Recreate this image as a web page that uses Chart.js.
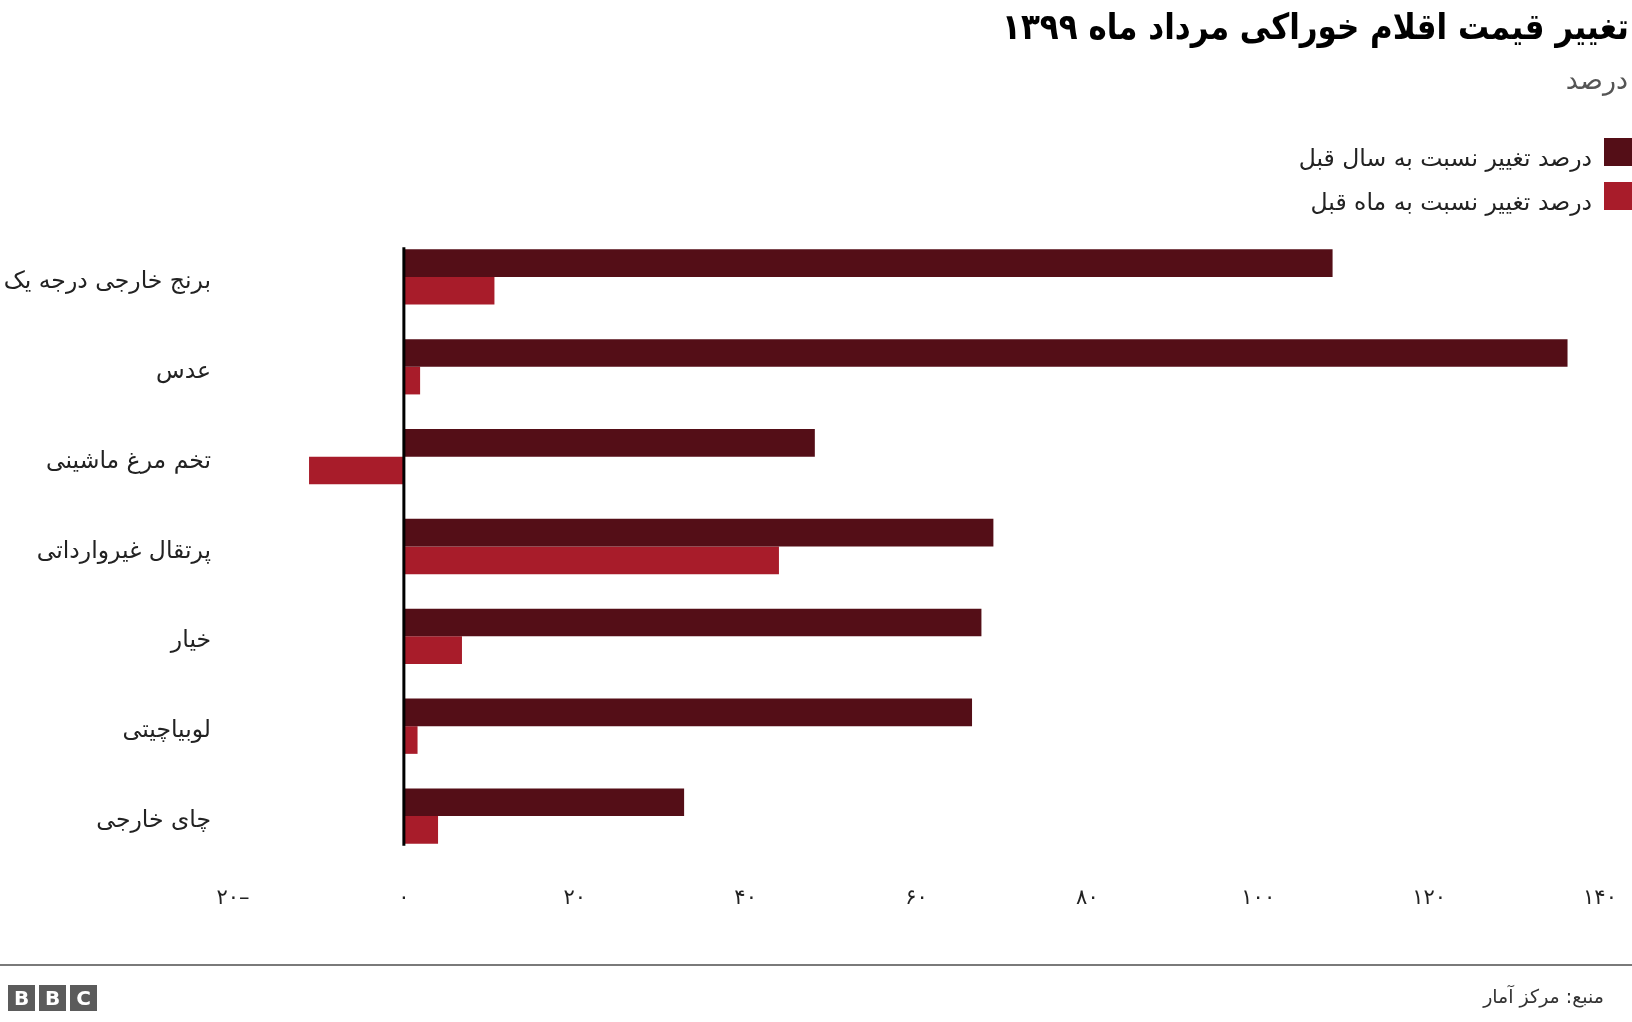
<!DOCTYPE html>
<html lang="fa">
<head>
<meta charset="utf-8">
<script src="https://cdn.jsdelivr.net/npm/chart.js@4/dist/chart.umd.min.js"></script>
<style>
  body { margin: 0; background: #fff; font-family: "DejaVu Sans", sans-serif; }
  #page { position: relative; width: 1632px; height: 1022px; overflow: hidden; }
  #chart { position: absolute; left: 0; top: 0; }
  .txt { position: absolute; direction: rtl; white-space: nowrap; }
  #title { right: 3px; top: 6px; font-size: 36px; font-weight: bold; color: #000; transform: scaleX(0.86); transform-origin: right top; }
  #subtitle { right: 4px; top: 64px; font-size: 27px; color: #555; }
  .legend-row { position: absolute; right: 0; height: 28px; display: flex; align-items: center; direction: rtl; }
  .legend-box { width: 28px; height: 28px; margin-left: 12px; }
  .legend-label { font-size: 23.5px; color: #222; white-space: nowrap; padding-top: 12px; }
  #rule { position: absolute; left: 0; top: 964px; width: 1632px; height: 2px; background: #7a7a7a; }
  #source { right: 28px; top: 985px; font-size: 19px; color: #333; }
  #bbc { position: absolute; left: 8px; top: 985px; display: flex; gap: 4px; }
  #bbc span { width: 27px; height: 26px; background: #5b5b5b; color: #fff; font: bold 20px "DejaVu Sans", sans-serif; display: flex; align-items: center; justify-content: center; }
</style>
</head>
<body>
<div id="page">
  <canvas id="chart" width="1632" height="1022"></canvas>
  <div class="txt" id="title">تغییر قیمت اقلام خوراکی مرداد ماه ۱۳۹۹</div>
  <div class="txt" id="subtitle">درصد</div>
  <div id="legend"></div>
  <div id="rule"></div>
  <div id="bbc"><span>B</span><span>B</span><span>C</span></div>
  <div class="txt" id="source">منبع: مرکز آمار</div>
</div>
<script>
// Data
const categories = [
    'برنج خارجی درجه یک',
    'عدس',
    'تخم مرغ ماشینی',
    'پرتقال غیروارداتی',
    'خیار',
    'لوبیاچیتی',
    'چای خارجی'
];
const seriesNames = ['درصد تغییر نسبت به سال قبل', 'درصد تغییر نسبت به ماه قبل'];
const yearChange = [108.7, 136.2, 48.1, 69.0, 67.6, 66.5, 32.8];
const monthChange = [10.6, 1.9, -11.1, 43.9, 6.8, 1.6, 4.0];
const tickValues = [-20, 0, 20, 40, 60, 80, 100, 120, 140];
const colors = ['#540e17', '#a81c2a'];

const faDigits = '۰۱۲۳۴۵۶۷۸۹';
const toFa = (n) => String(Math.abs(n)).replace(/\d/g, d => faDigits[d]) + (n < 0 ? '–' : '');

// Legend (HTML)
const legendEl = document.getElementById('legend');
seriesNames.forEach((name, i) => {
    const row = document.createElement('div');
    row.className = 'legend-row';
    row.style.top = (138 + i * 44) + 'px';
    row.innerHTML = `<div class="legend-box" style="background:${colors[i]}"></div><div class="legend-label">${name}</div>`;
    legendEl.appendChild(row);
});

// Zero line drawn over the bars
const zeroLine = {
    id: 'zeroLine',
    afterDatasetsDraw(chart) {
        const ctx = chart.ctx;
        const x = chart.scales.x.getPixelForValue(0);
        const first = chart.getDatasetMeta(0).data[0];
        const last = chart.getDatasetMeta(1).data[categories.length - 1];
        const top = first.y - first.height / 2 - 2;
        const bottom = last.y + last.height / 2 + 2;
        ctx.save();
        ctx.strokeStyle = '#000';
        ctx.lineWidth = 3;
        ctx.beginPath();
        ctx.moveTo(x, top);
        ctx.lineTo(x, bottom);
        ctx.stroke();
        ctx.restore();
    }
};

new Chart(document.getElementById('chart'), {
    type: 'bar',
    data: {
        labels: categories,
        datasets: [
            { label: seriesNames[0], data: yearChange, backgroundColor: colors[0] },
            { label: seriesNames[1], data: monthChange, backgroundColor: colors[1] }
        ]
    },
    options: {
        indexAxis: 'y',
        responsive: false,
        animation: false,
        devicePixelRatio: 1,
        layout: { padding: { top: 232, right: 32, left: 0, bottom: 0 } },
        datasets: { bar: { categoryPercentage: 0.615, barPercentage: 1.0 } },
        plugins: { legend: { display: false }, tooltip: { enabled: false } },
        scales: {
            x: {
                min: -20,
                max: 140,
                afterBuildTicks: (scale) => { scale.ticks = tickValues.map(v => ({ value: v })); },
                grid: { display: false },
                border: { display: false },
                ticks: {
                    padding: 17,
                    color: '#222',
                    font: { family: 'DejaVu Sans', size: 21 },
                    callback: (v) => toFa(v)
                },
                afterFit: (scale) => {
                    scale.height = 161;
                    scale.paddingLeft = 0;
                    scale.paddingRight = 0;
                }
            },
            y: {
                grid: { display: false },
                border: { display: false },
                ticks: {
                    padding: 14,
                    labelOffset: 5,
                    color: '#222',
                    font: { family: 'DejaVu Sans', size: 23.5 }
                },
                afterFit: (scale) => { scale.width = 233; }
            }
        }
    },
    plugins: [zeroLine]
});
</script>
</body>
</html>
